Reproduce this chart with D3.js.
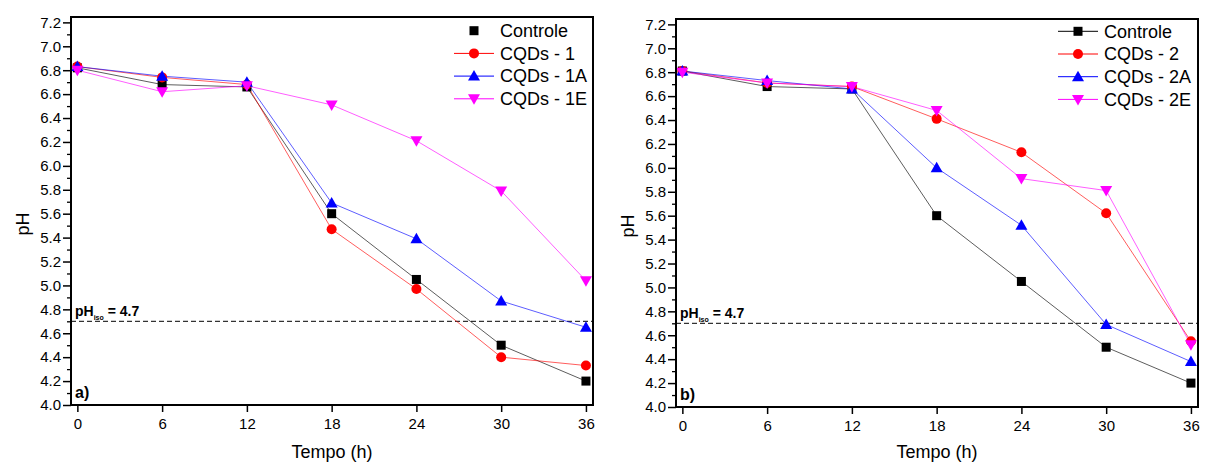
<!DOCTYPE html>
<html lang="en">
<head>
    <meta charset="UTF-8">
    <title>pH vs Tempo</title>
    <script src="https://d3js.org/d3.v7.min.js"></script>
    <style>
        body { margin: 0; background: #fff; font-family: Arial, "Liberation Sans", sans-serif; }
        svg { display: block; }
        .tick text { font-size: 15px; font-family: Arial, "Liberation Sans", sans-serif; fill: #000; }
        .domain { display: none; }
    </style>
</head>
<body>
    <div id="chart"></div>
    <script>
        // time points (h)
        const times = [0, 6, 12, 18, 24, 30, 36];
        const xTicks = [0, 6, 12, 18, 24, 30, 36];
        const yTicks = [4.0, 4.2, 4.4, 4.6, 4.8, 5.0, 5.2, 5.4, 5.6, 5.8, 6.0, 6.2, 6.4, 6.6, 6.8, 7.0, 7.2];

        // panel a
        const namesA = ["Controle", "CQDs - 1", "CQDs - 1A", "CQDs - 1E"];
        const controleA = [6.82, 6.68, 6.66, 5.60, 5.05, 4.50, 4.20];
        const cqds1 = [6.83, 6.74, 6.68, 5.47, 4.97, 4.40, 4.33];
        const cqds1A = [6.83, 6.75, 6.70, 5.69, 5.39, 4.87, 4.65];
        const cqds1E = [6.80, 6.62, 6.67, 6.51, 6.21, 5.79, 5.04];

        // panel b
        const namesB = ["Controle", "CQDs - 2", "CQDs - 2A", "CQDs - 2E"];
        const controleB = [6.81, 6.68, 6.66, 5.60, 5.05, 4.50, 4.20];
        const cqds2 = [6.81, 6.71, 6.68, 6.41, 6.13, 5.62, 4.55];
        const cqds2A = [6.81, 6.73, 6.66, 6.00, 5.52, 4.69, 4.38];
        const cqds2E = [6.80, 6.71, 6.68, 6.48, 5.91, 5.81, 4.52];

        const phIso = 4.7;

        const colors = ["#000000", "#ff0000", "#0000ff", "#ff00ff"];
        const symbols = ["square", "circle", "up", "down"];

        const svg = d3.select("#chart").append("svg")
            .attr("width", 1205)
            .attr("height", 464);

        function drawMarker(g, type, cx, cy, color) {
            if (type === "square") {
                g.append("rect").attr("x", cx - 4.5).attr("y", cy - 4.5)
                    .attr("width", 9).attr("height", 9).attr("fill", color);
            } else if (type === "circle") {
                g.append("circle").attr("cx", cx).attr("cy", cy).attr("r", 5).attr("fill", color);
            } else if (type === "up") {
                g.append("path").attr("fill", color)
                    .attr("d", `M${cx},${cy - 6}L${cx + 6},${cy + 4.5}L${cx - 6},${cy + 4.5}Z`);
            } else {
                g.append("path").attr("fill", color)
                    .attr("d", `M${cx},${cy + 6}L${cx + 6},${cy - 4.5}L${cx - 6},${cy - 4.5}Z`);
            }
        }

        function drawPanel(p) {
            const x = d3.scaleLinear().domain([-0.45, 36.5]).range([p.left, p.right]);
            const y = d3.scaleLinear().domain([4.0, 7.245]).range([p.bottom, p.top]);
            const g = svg.append("g");

            // minor y ticks
            const minor = d3.range(4.1, 7.2, 0.2);
            g.append("g")
                .attr("transform", `translate(${p.left},0)`)
                .call(d3.axisLeft(y).tickValues(minor).tickSize(4).tickFormat(""))
                .selectAll("line").attr("stroke", "#000").attr("stroke-width", 1.3);

            // major y ticks
            const ya = g.append("g")
                .attr("transform", `translate(${p.left},0)`)
                .call(d3.axisLeft(y).tickValues(yTicks).tickSize(8).tickPadding(2).tickFormat(d3.format(".1f")));
            ya.selectAll("line").attr("stroke", "#000").attr("stroke-width", 1.5);

            // x ticks
            const xa = g.append("g")
                .attr("transform", `translate(0,${p.bottom})`)
                .call(d3.axisBottom(x).tickValues(xTicks).tickSize(7).tickPadding(6));
            xa.selectAll("line").attr("stroke", "#000").attr("stroke-width", 1.5);

            // pH iso line
            g.append("line")
                .attr("x1", p.left).attr("x2", p.right)
                .attr("y1", y(phIso)).attr("y2", y(phIso))
                .attr("stroke", "#000").attr("stroke-width", 1)
                .attr("stroke-dasharray", "5,3");

            const iso = g.append("text")
                .attr("x", p.left + 4).attr("y", y(4.8) + 7)
                .attr("font-size", 14).attr("font-weight", "bold");
            iso.append("tspan").text("pH");
            iso.append("tspan").attr("font-size", 7).attr("dy", 4).text("iso");
            iso.append("tspan").attr("dy", -4).text(" = 4.7");

            // series
            const line = d3.line().x((d, i) => x(times[i])).y(d => y(d));
            p.series.forEach((s, k) => {
                g.append("path").datum(s)
                    .attr("d", line)
                    .attr("fill", "none")
                    .attr("stroke", colors[k])
                    .attr("stroke-width", 0.8)
                    .attr("stroke-opacity", 0.8);
            });
            p.series.forEach((s, k) => {
                s.forEach((v, i) => drawMarker(g, symbols[k], x(times[i]), y(v), colors[k]));
            });

            // frame
            g.append("rect")
                .attr("x", p.left).attr("y", p.top)
                .attr("width", p.right - p.left).attr("height", p.bottom - p.top)
                .attr("fill", "none").attr("stroke", "#000").attr("stroke-width", 2);

            // panel letter
            g.append("text")
                .attr("x", p.left + 4).attr("y", p.bottom - 7)
                .attr("font-size", 16).attr("font-weight", "bold")
                .text(p.letter);

            // legend
            p.names.forEach((name, k) => {
                const ly = p.legendY + k * 22.7;
                if (!(k === 0 && p.noLineFirst)) {
                    g.append("line")
                        .attr("x1", p.legendX - 20).attr("x2", p.legendX + 20)
                        .attr("y1", ly).attr("y2", ly)
                        .attr("stroke", colors[k]).attr("stroke-width", 1);
                }
                drawMarker(g, symbols[k], p.legendX, ly, colors[k]);
                g.append("text")
                    .attr("x", p.legendX + 26).attr("y", ly)
                    .attr("dy", "0.35em")
                    .attr("font-size", 18)
                    .text(name);
            });

            // axis titles
            g.append("text")
                .attr("x", (p.left + p.right) / 2).attr("y", 458)
                .attr("text-anchor", "middle")
                .attr("font-size", 18)
                .text("Tempo (h)");
            g.append("text")
                .attr("transform", `translate(${p.left - 42},${(p.top + p.bottom) / 2 + 13}) rotate(-90)`)
                .attr("text-anchor", "middle")
                .attr("font-size", 18)
                .text("pH");
        }

        drawPanel({
            left: 71, right: 593, top: 17, bottom: 405,
            series: [controleA, cqds1, cqds1A, cqds1E],
            names: namesA, letter: "a)",
            legendX: 474, legendY: 30.7, noLineFirst: true
        });
        drawPanel({
            left: 676, right: 1198, top: 19, bottom: 407,
            series: [controleB, cqds2, cqds2A, cqds2E],
            names: namesB, letter: "b)",
            legendX: 1078, legendY: 31.3, noLineFirst: false
        });
    </script>
</body>
</html>
